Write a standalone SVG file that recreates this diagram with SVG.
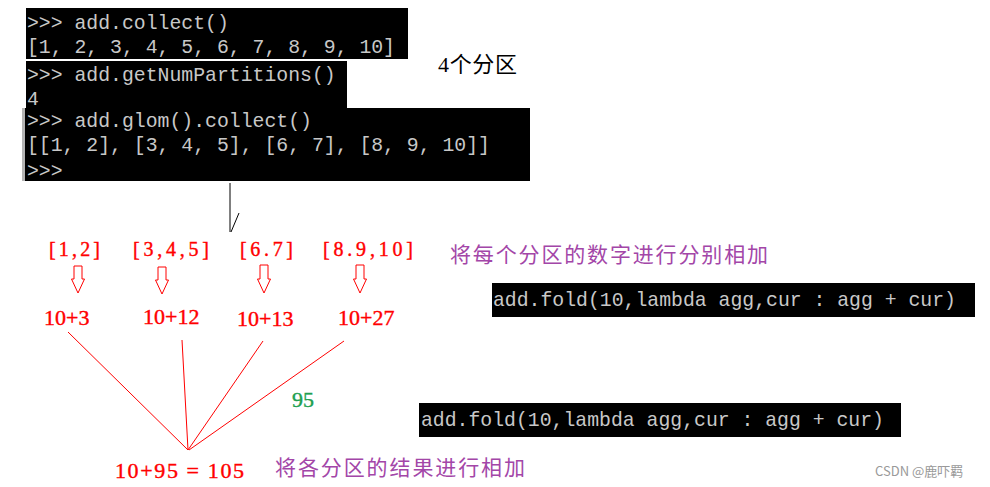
<svg xmlns="http://www.w3.org/2000/svg" width="990" height="487" viewBox="0 0 990 487">
<style>
.con{font-family:"Liberation Mono","DejaVu Sans Mono",monospace;font-size:19.8px;fill:#c8c8c8}
.blk{fill:#000}
.red{font-family:"Liberation Serif","Noto Sans CJK SC",serif;fill:#ff0000;stroke:#ff0000;stroke-width:0.4}
.pur{font-family:"Noto Sans CJK SC",sans-serif;font-size:21px;fill:#a346a8}
.arr{fill:#fff;stroke:#ff0000;stroke-width:1}
.ln{stroke:#ff0000;stroke-width:1;fill:none}
</style>
<rect width="990" height="487" fill="#fff"/>
<g id="console">
<rect class="blk" x="26" y="8" width="382" height="51"/>
<rect class="blk" x="26" y="61" width="321" height="47"/>
<rect class="blk" x="22" y="108" width="508" height="73"/>
<rect x="22" y="108" width="3" height="73" fill="#b4b4b4"/>
<text class="con" x="27" y="29">&gt;&gt;&gt; add.collect()</text>
<text class="con" x="27" y="53">[1, 2, 3, 4, 5, 6, 7, 8, 9, 10]</text>
<text class="con" x="27" y="81">&gt;&gt;&gt; add.getNumPartitions()</text>
<text class="con" x="27" y="105">4</text>
<text class="con" x="27" y="127">&gt;&gt;&gt; add.glom().collect()</text>
<text class="con" x="27" y="151">[[1, 2], [3, 4, 5], [6, 7], [8, 9, 10]]</text>
<text class="con" x="27" y="177">&gt;&gt;&gt;</text>
</g>
<g id="partitions-label">
<text x="438" y="72" font-family="Liberation Serif,'Noto Sans CJK SC',serif" font-size="22" fill="#000" textLength="79" lengthAdjust="spacing">4个分区</text>
</g>
<g id="p1"><text class="red" x="49" y="256" font-size="20" textLength="51" lengthAdjust="spacing">[1,2]</text></g>
<g id="p2"><text class="red" x="133" y="256" font-size="20" textLength="76" lengthAdjust="spacing">[3,4,5]</text></g>
<g id="p3"><text class="red" x="240" y="256" font-size="20" textLength="53" lengthAdjust="spacing">[6.7]</text></g>
<g id="p4"><text class="red" x="323" y="256" font-size="20" textLength="90" lengthAdjust="spacing">[8.9,10]</text></g>
<g id="desc1"><text class="pur" x="450" y="262" textLength="318" lengthAdjust="spacing">将每个分区的数字进行分别相加</text></g>
<g id="fold1">
<rect class="blk" x="492" y="283" width="483" height="34"/>
<text class="con" x="493" y="306">add.fold(10,lambda agg,cur : agg + cur)</text>
</g>
<g id="r1"><text class="red" x="44" y="325" font-size="22">10+3</text></g>
<g id="r2"><text class="red" x="143" y="324" font-size="22">10+12</text></g>
<g id="r3"><text class="red" x="237" y="326" font-size="22">10+13</text></g>
<g id="r4"><text class="red" x="338" y="325" font-size="22">10+27</text></g>
<g id="sum95"><text x="292" y="407" font-family="Liberation Serif,serif" font-size="22" fill="#20a050" stroke="#20a050" stroke-width="0.4">95</text></g>
<g id="fold2">
<rect class="blk" x="419" y="403" width="482" height="34"/>
<text class="con" x="421" y="426">add.fold(10,lambda agg,cur : agg + cur)</text>
</g>
<g id="total"><text class="red" x="115" y="478" font-size="22" textLength="129" lengthAdjust="spacing">10+95 = 105</text></g>
<g id="desc2"><text class="pur" x="275" y="475" textLength="250" lengthAdjust="spacing">将各分区的结果进行相加</text></g>
<g id="watermark"><text x="875" y="476" font-family="'Noto Sans CJK SC',sans-serif" font-size="13" fill="#999">CSDN @鹿吓羁</text></g>
<g id="connectors">
<path d="M230,183 L230,232 M231,232 L239,213" stroke="#000" stroke-width="1" fill="none"/>
<path class="arr" d="M74,266 H82 V279 H84.5 L78,293 L71.5,279 H74 Z"/>
<path class="arr" d="M158,267 H166 V280 H168.5 L162,294 L155.5,280 H158 Z"/>
<path class="arr" d="M260,265 H268 V279 H270.5 L264,293 L257.5,279 H260 Z"/>
<path class="arr" d="M356,265 H364 V279 H366.5 L360,293 L353.5,279 H356 Z"/>
<line class="ln" x1="68" y1="332" x2="188" y2="450"/>
<line class="ln" x1="182" y1="340" x2="188" y2="450"/>
<line class="ln" x1="263" y1="341" x2="188" y2="450"/>
<line class="ln" x1="344" y1="341" x2="189" y2="450"/>
</g>
</svg>
